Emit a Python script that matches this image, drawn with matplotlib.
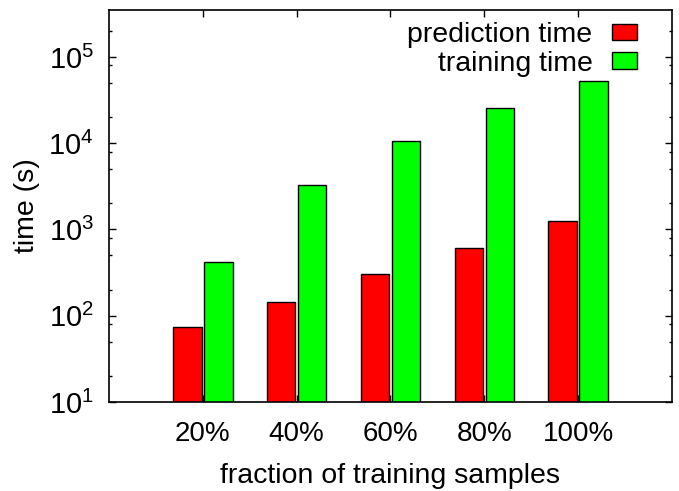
import numpy as np
import matplotlib
matplotlib.use("Agg")
import matplotlib.pyplot as plt
from matplotlib.ticker import LogLocator, NullFormatter

plt.rcParams['font.family'] = ['Liberation Sans', 'DejaVu Sans']
plt.rcParams['mathtext.fontset'] = 'custom'
plt.rcParams['mathtext.rm'] = 'Liberation Sans'
plt.rcParams['mathtext.it'] = 'Liberation Sans:italic'
plt.rcParams['mathtext.bf'] = 'Liberation Sans:bold'

# data
fractions = ['20%', '40%', '60%', '80%', '100%']
prediction_time = [75, 144, 302, 611, 1265]
training_time = [420, 3300, 10700, 25600, 53100]

fig = plt.figure(figsize=(6.79, 4.91), dpi=100)
ax = fig.add_axes([0.1605, 0.1813, 0.8292, 0.7983])

x = np.arange(len(fractions))
w = 0.303
ax.bar(x - 0.165, prediction_time, w, color='#ff0000', edgecolor='black',
       linewidth=1.0, label='prediction time')
ax.bar(x + 0.165, training_time, w, color='#00ff00', edgecolor='black',
       linewidth=1.0, label='training time')

ax.set_yscale('log')
ax.set_ylim(10, 3.5e5)
ax.set_xlim(-1, 5)
ax.set_xticks(x)
ax.set_xticklabels(fractions)
ax.yaxis.set_major_locator(LogLocator(base=10, numticks=10))
ax.yaxis.set_minor_locator(LogLocator(base=10, subs=(2, 5, 8), numticks=10))
ax.yaxis.set_minor_formatter(NullFormatter())

ax.tick_params(axis='both', which='major', direction='in', length=5,
               width=1, labelsize=20, top=True, right=True)
ax.tick_params(axis='x', which='major', pad=14)
ax.tick_params(axis='y', which='major', pad=11, labelsize=21)
ax.tick_params(axis='y', which='minor', direction='in', length=2.5,
               width=1, right=True)
ax.tick_params(axis='x', which='minor', bottom=False, top=False)
for s in ax.spines.values():
    s.set_linewidth(1.2)

ax.set_xlabel('fraction of training samples', fontsize=20.5, labelpad=11)
ax.set_ylabel('time (s)', fontsize=20.5, labelpad=6)

ax.legend(loc='upper right', bbox_to_anchor=(0.9378, 0.97), markerfirst=False,
          frameon=False, fontsize=20.5, handlelength=0.86, handleheight=0.5,
          handletextpad=0.7, labelspacing=0.1, borderaxespad=0, borderpad=0)

fig.savefig('out.png', dpi=100)
